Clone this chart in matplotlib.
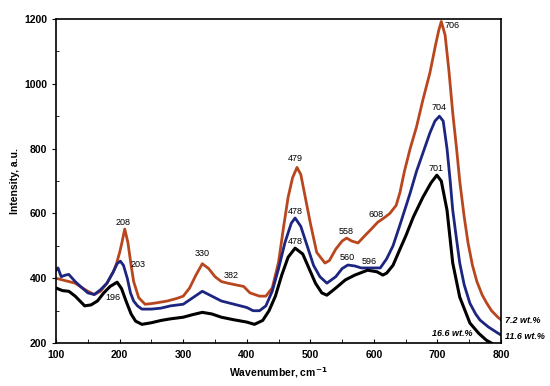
import matplotlib.pyplot as plt
from matplotlib.ticker import MultipleLocator

plt.rcParams['font.family'] = ['Liberation Sans', 'DejaVu Sans']

# 7.2 wt% (red)
x_red = [100, 110, 120, 130, 140, 150, 160, 170, 180, 190, 195, 200, 203, 208, 213, 218, 222, 230, 240, 250, 260,
         275, 290, 300, 310, 320, 330, 340, 350, 360, 370, 382, 395, 405, 420, 430, 440, 450, 458, 465, 472, 479,
         485, 490, 500, 510, 523, 530, 540, 550, 557, 565, 575, 585, 595, 606, 615, 625, 635, 641, 648, 657, 667,
         677, 688, 697, 702, 706, 712, 718, 724, 730, 735, 742, 748, 755, 762, 770, 777, 785, 795, 800]
y_red = [400, 395, 390, 385, 372, 360, 350, 360, 385, 420, 445, 480, 505, 552, 510, 440, 390, 340, 320, 322, 325,
         330, 338, 345, 370, 410, 445, 430, 405, 390, 385, 380, 375, 355, 345, 345, 370, 450, 560, 650, 710, 742,
         720, 670, 570, 480, 447, 455, 490, 515, 524, 515, 509, 530, 550, 573, 585, 600, 625, 665, 730, 800, 867,
         950, 1033, 1120, 1165, 1192, 1150, 1040, 910, 800, 700, 590, 510, 440, 390, 350, 325, 300, 280, 272]

# 11.6 wt% (blue)
x_blue = [100, 103, 108, 115, 120, 130, 140, 150, 160, 170, 180, 190, 196, 201, 206, 212, 217, 222, 228, 235, 250,
          265, 280, 300, 315, 330, 345, 360, 380, 400, 410, 420, 430, 440, 450, 460, 470, 476, 485, 495, 505,
          515, 526, 540, 550, 559, 570, 580, 590, 600, 610, 620, 630, 641, 650, 657, 667, 677, 688, 696, 703,
          709, 715, 720, 724, 730, 735, 742, 751, 760, 767, 780, 795, 800]
y_blue = [425, 432, 405, 410, 412, 390, 372, 355, 350, 365, 385, 420, 445, 453, 440, 400, 355, 330, 315, 305, 305,
          308, 315, 320, 340, 360, 345, 330, 320, 310, 300, 300, 315, 360, 430, 510, 570, 586, 560, 500, 440,
          405, 385, 405, 430, 441, 438, 432, 432, 432, 432, 460, 500, 565, 620, 663, 730, 786, 848, 885, 900,
          885, 800, 700, 610, 520, 447, 380, 323, 290, 271, 250, 231, 225]

# 16.6 wt% (black)
x_black = [100, 110, 120, 130, 140, 145, 155, 165, 175, 185, 196, 203, 210, 218, 225, 235, 250, 265, 280, 300,
           315, 330, 345, 360, 380, 400, 412, 425, 435, 445, 455, 465, 476, 488, 498, 508, 518, 526, 540, 555,
           570, 590, 605, 614, 620, 630, 641, 650, 662, 677, 690, 699, 706, 715, 724, 735, 751, 765, 777, 785]
y_black = [370, 362, 360, 345, 325, 315, 318, 330, 355, 375, 388, 368, 330, 290, 268, 258, 263, 270, 275, 280,
           288, 295, 290, 280, 272, 265, 258, 270, 300, 345, 410, 465, 493, 475, 430, 385, 355, 348, 370, 395,
           410, 425, 420, 410, 416, 440, 490, 530, 589, 650, 695, 718, 700, 610, 447, 342, 262, 230, 209, 200]

peak_labels = ['208', '203', '196', '330', '382', '479', '478', '478', '558', '608', '560', '596', '706', '704', '701']
peak_x = [205, 229, 190, 329, 376, 477, 477, 477, 556, 603, 558, 592, 723, 702, 697]
peak_y = [573, 444, 342, 475, 410, 768, 607, 512, 545, 598, 465, 453, 1181, 928, 740]

fig = plt.figure(figsize=(5.5, 3.86), dpi=100)
ax = fig.add_axes([0.102, 0.111, 0.809, 0.840])

ax.plot(x_red, y_red, color='#B8461E', linewidth=2)
ax.plot(x_blue, y_blue, color='#1C2580', linewidth=2)
ax.plot(x_black, y_black, color='black', linewidth=2.2)

for lab, px, py in zip(peak_labels, peak_x, peak_y):
    ax.text(px, py, lab, fontsize=6.5, ha='center', va='center')

ax.text(1.01, 0.07, '7.2 wt.%', transform=ax.transAxes, fontsize=6.5, style='italic', fontweight='bold', va='center')
ax.text(1.01, 0.02, '11.6 wt.%', transform=ax.transAxes, fontsize=6.5, style='italic', fontweight='bold', va='center')
ax.text(723, 231, '16.6 wt.%', fontsize=6.5, style='italic', fontweight='bold', ha='center', va='center')

ax.set_xlim(100, 800)
ax.set_ylim(200, 1200)
ax.xaxis.set_major_locator(MultipleLocator(100))
ax.xaxis.set_minor_locator(MultipleLocator(50))
ax.yaxis.set_major_locator(MultipleLocator(200))
ax.yaxis.set_minor_locator(MultipleLocator(100))
ax.tick_params(axis='x', which='both', direction='in', length=3, labelsize=7.5, pad=5)
ax.tick_params(axis='y', which='major', direction='out', length=3, labelsize=7.5)
ax.tick_params(axis='y', which='minor', direction='in', length=2)
for lbl in ax.get_xticklabels() + ax.get_yticklabels():
    lbl.set_fontweight('bold')
for sp in ax.spines.values():
    sp.set_linewidth(1.2)

ax.set_xlabel('Wavenumber, cm$^{\\mathbf{-1}}$', fontsize=7.5, fontweight='bold', labelpad=4)
ax.set_ylabel('Intensity, a.u.', fontsize=7.5, fontweight='bold', labelpad=3)

fig.savefig('out.png', dpi=100)
